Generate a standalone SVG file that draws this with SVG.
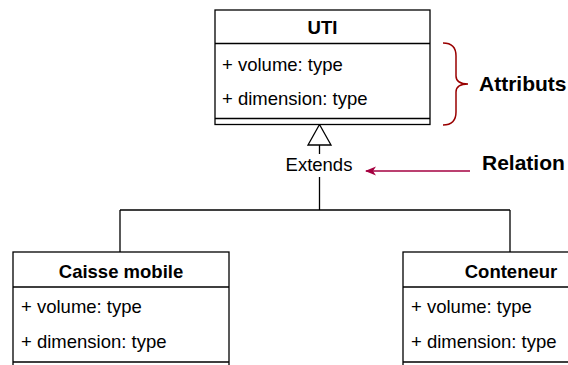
<svg xmlns="http://www.w3.org/2000/svg" width="568" height="365" viewBox="0 0 568 365">
  <style>
    .box { fill: #ffffff; stroke: #000000; stroke-width: 1.3; }
    .ln { stroke: #000000; stroke-width: 1.3; fill: none; }
    .t { font-family: "Liberation Sans", Arial, Helvetica, sans-serif; font-size: 18.5px; fill: #000000; }
    .b { font-weight: bold; }
    .big { font-family: "Liberation Sans", Arial, Helvetica, sans-serif; font-size: 21px; font-weight: bold; fill: #000000; }
    .red { stroke: #A50040; stroke-width: 1.5; fill: none; }
    .brace { stroke: #990000; stroke-width: 1.5; fill: none; }
  </style>
  <defs>
    <marker id="arr" markerWidth="12" markerHeight="10" refX="10" refY="5" orient="auto" markerUnits="userSpaceOnUse">
      <path d="M0,0.5 L11,5 L0,9.5 L3,5 Z" fill="#A50040"/>
    </marker>
  </defs>
  <rect width="568" height="365" fill="#ffffff"/>

  <g id="connectors">
    <path class="ln" d="M319.5,145 L319.5,210 M120,210 L510,210 M120,210 L120,252 M510,210 L510,252"/>
    <polygon points="319.5,124.5 308,145 331,145" fill="#ffffff" stroke="#000000" stroke-width="1.3"/>
    <rect x="284" y="154" width="71" height="23" fill="#ffffff"/>
    <text class="t" x="319" y="171" text-anchor="middle">Extends</text>
  </g>

  <g id="uti">
    <rect class="box" x="215" y="10" width="215" height="114.5"/>
    <path class="ln" d="M215,43.5 L430,43.5 M215,118.5 L430,118.5"/>
    <text class="t b" x="322.5" y="33.5" text-anchor="middle">UTI</text>
    <text class="t" x="222" y="71">+ volume: type</text>
    <text class="t" x="222" y="105">+ dimension: type</text>
  </g>

  <g id="caisse-mobile">
    <rect class="box" x="13" y="252" width="216" height="120"/>
    <path class="ln" d="M13,287 L229,287 M13,362 L229,362"/>
    <text class="t b" x="121" y="278" text-anchor="middle">Caisse mobile</text>
    <text class="t" x="21" y="313">+ volume: type</text>
    <text class="t" x="21" y="348">+ dimension: type</text>
  </g>

  <g id="conteneur">
    <rect class="box" x="403" y="252" width="216" height="120"/>
    <path class="ln" d="M403,287 L619,287 M403,362 L619,362"/>
    <text class="t b" x="511" y="278" text-anchor="middle">Conteneur</text>
    <text class="t" x="411" y="313">+ volume: type</text>
    <text class="t" x="411" y="348">+ dimension: type</text>
  </g>

  <g id="attributs">
    <path class="brace" d="M443,43 Q456,43 456,56 L456,76 Q456,84 468,84 Q456,84 456,92 L456,112 Q456,125 443,125"/>
    <text class="big" x="479" y="91">Attributs</text>
  </g>

  <g id="relation">
    <line class="red" x1="470" y1="171" x2="366" y2="171" marker-end="url(#arr)"/>
    <text class="big" x="482" y="170">Relation</text>
  </g>
</svg>
